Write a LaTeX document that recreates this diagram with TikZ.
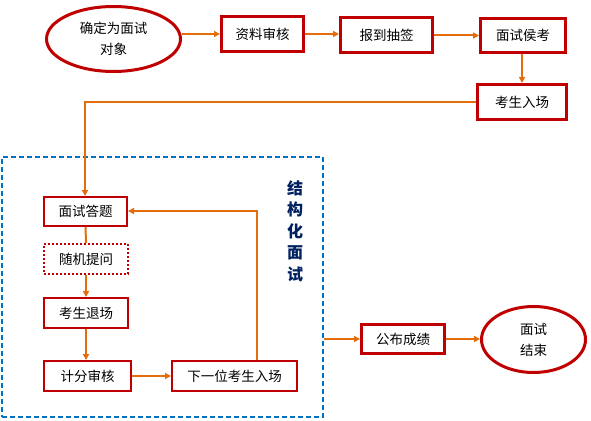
\documentclass[tikz,border=0pt]{standalone}
\usepackage{fontspec}
\newfontfamily\cjk{Noto Sans CJK SC}
\usetikzlibrary{arrows.meta,shapes.geometric}
\definecolor{boxred}{HTML}{C00000}
\definecolor{arr}{HTML}{E46C0A}
\definecolor{dashblue}{HTML}{0070C0}
\definecolor{navy}{HTML}{002060}
\tikzset{
  every node/.style={font=\cjk\fontsize{13.5pt}{21pt}\selectfont, inner sep=0pt},
  bigbox/.style={draw=boxred, line width=3pt, rectangle},
  smallbox/.style={draw=boxred, line width=2pt, rectangle},
  dotbox/.style={draw=boxred, line width=2pt, rectangle, dash pattern=on 2pt off 2pt},
  oval/.style={draw=boxred, line width=3pt, ellipse, align=center},
  flow/.style={draw=arr, line width=2pt, -{Triangle[length=6pt,width=6pt]}},
  plain/.style={draw=arr, line width=2pt},
  grp/.style={draw=dashblue, line width=1.3pt, dash pattern=on 5pt off 3pt, rectangle}
}
\begin{document}
\begin{tikzpicture}[x=1pt,y=-1pt]
\useasboundingbox (0,0) rectangle (591,420);
% top row
\node[oval, minimum width=134pt, minimum height=65pt] (e1) at (113.5,39) {确定为面试\\对象};
\node[bigbox, minimum width=82pt, minimum height=35pt] (b1) at (262.5,34) {资料审核};
\node[bigbox, minimum width=92pt, minimum height=35pt] (b2) at (386.5,35.5) {报到抽签};
\node[bigbox, minimum width=85pt, minimum height=34pt] (b3) at (523,35.5) {面试侯考};
\node[bigbox, minimum width=89pt, minimum height=35pt] (b4) at (522,102) {考生入场};
% group
\node[grp, minimum width=321pt, minimum height=260pt] (g) at (162.5,287) {};
\node[font=\cjk\bfseries\fontsize{16pt}{21.5pt}\selectfont, text=navy, align=center] (gl) at (295,231) {结\\构\\化\\面\\试};
\node[smallbox, minimum width=83pt, minimum height=29pt] (c1) at (85.5,211.5) {面试答题};
\node[dotbox, minimum width=84pt, minimum height=30pt] (c2) at (86,259) {随机提问};
\node[smallbox, minimum width=84pt, minimum height=30pt] (c3) at (86,313) {考生退场};
\node[smallbox, minimum width=87pt, minimum height=30pt] (c4) at (87.5,376) {计分审核};
\node[smallbox, minimum width=125pt, minimum height=30pt] (c5) at (234.5,376) {下一位考生入场};
% end
\node[bigbox, minimum width=83pt, minimum height=29pt] (d1) at (403,339) {公布成绩};
\node[oval, minimum width=104pt, minimum height=66pt] (e2) at (533.5,339.5) {面试\\结束};
\coordinate (k1) at (85,102);
\coordinate (k2) at (257,211);
% connectors
\draw[flow] (e1.east |- b1.west) -- (b1.west);
\draw[flow] (b1.east) -- (b1.east -| b2.west);
\draw[flow] (b2.east) -- (b2.east -| b3.west);
\draw[flow] (b3.south -| b4.north) -- (b4.north);
\draw[flow] (b4.west) -- (k1) -- (k1 |- c1.north);
\draw[plain] (c1.south) -- (c2.north);
\draw[flow] (c2.south) -- (c3.north);
\draw[flow] (c3.south) -- (c3.south |- c4.north);
\draw[flow] (c4.east) -- (c5.west);
\draw[flow] (k2 |- c5.north) -- (k2) -- (k2 -| c1.east);
\draw[flow] (g.east |- d1.west) -- (d1.west);
\draw[flow] (d1.east) -- (d1.east -| e2.west);
\end{tikzpicture}
\end{document}
